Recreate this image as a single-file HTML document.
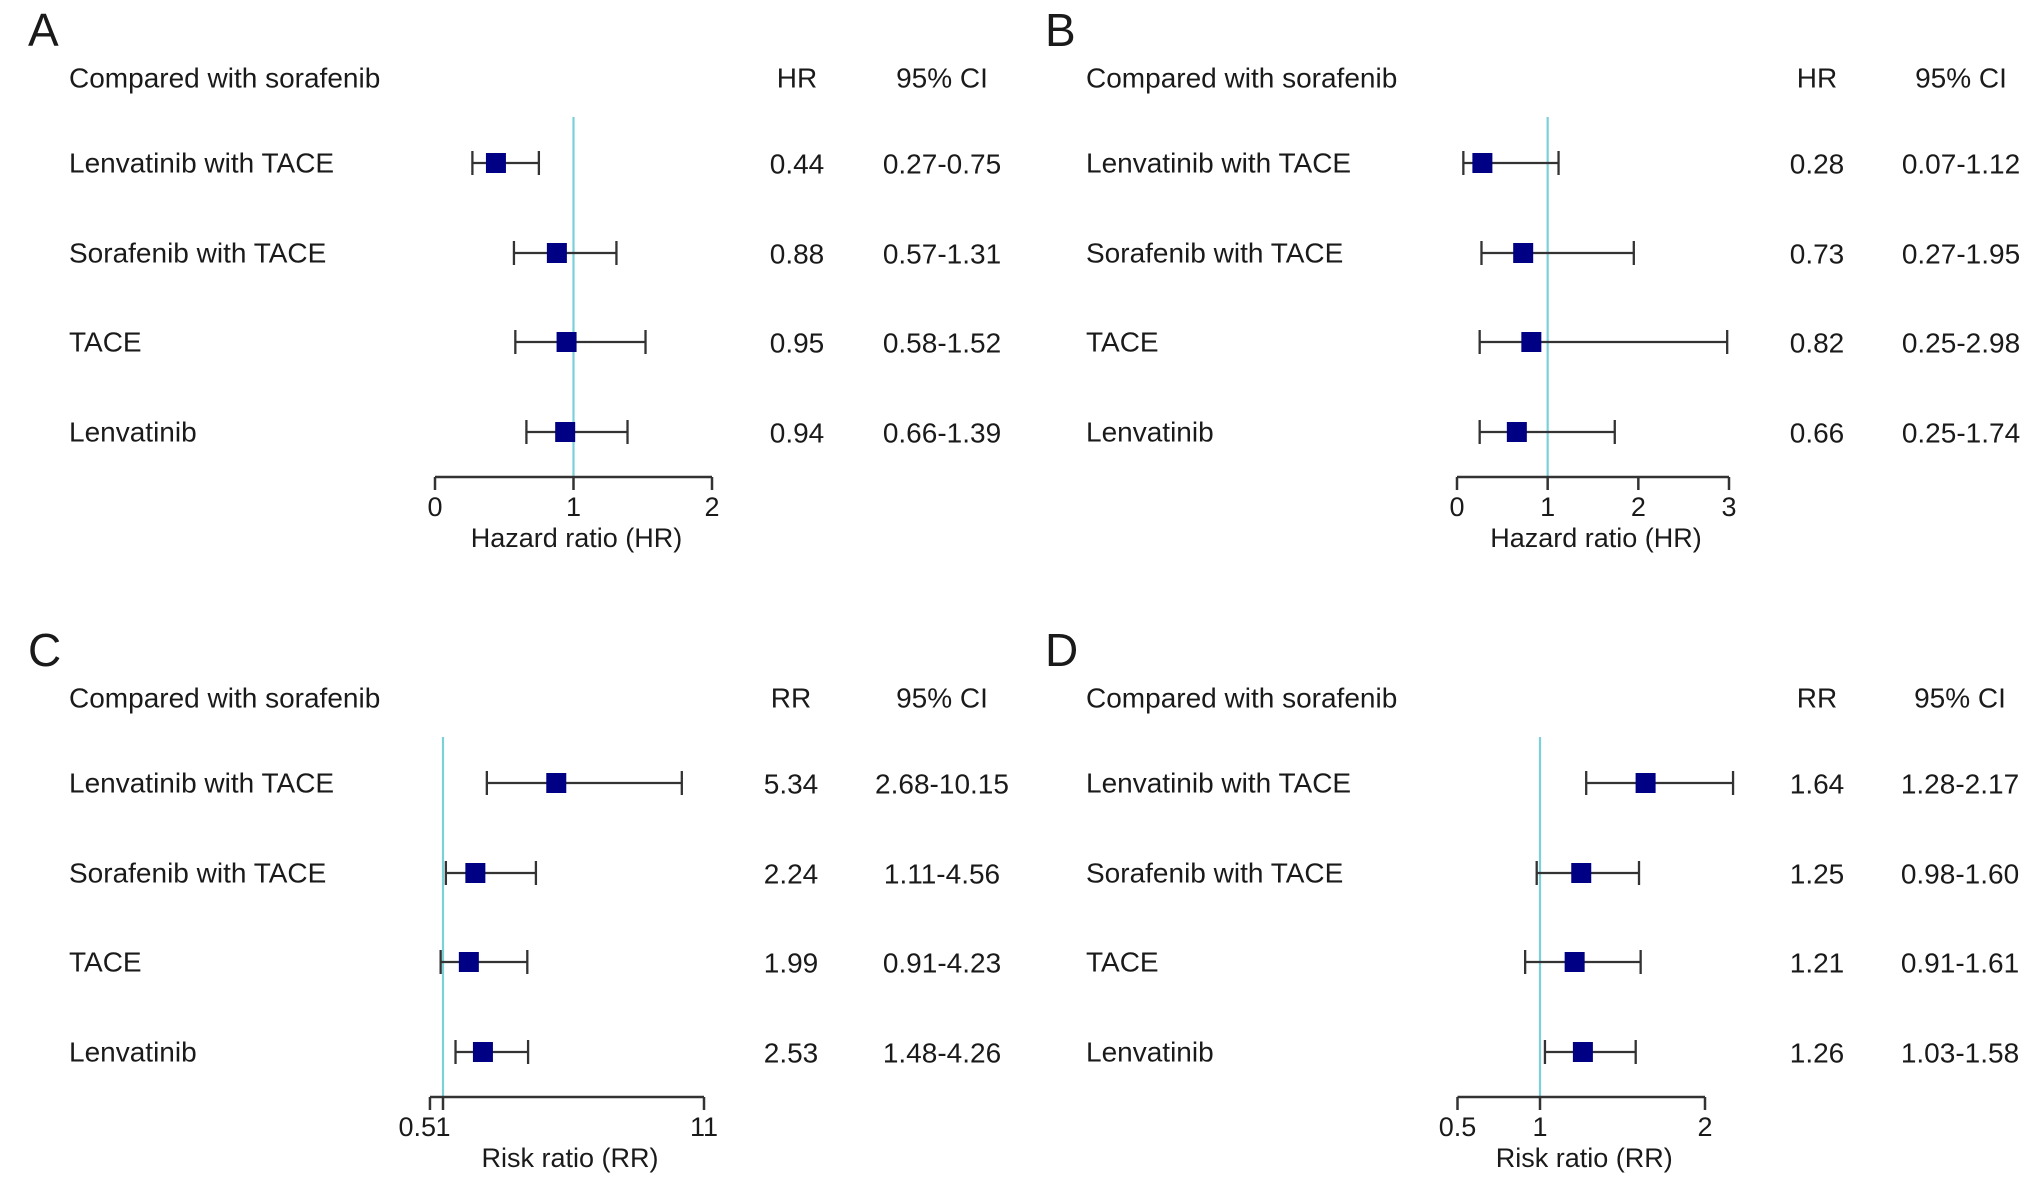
<!DOCTYPE html>
<html><head><meta charset="utf-8"><style>
html,body{margin:0;padding:0;background:#fff;}
svg{display:block;font-family:"Liberation Sans",Arial,sans-serif;}
</style></head><body>
<svg id="fig" width="2032" height="1187" viewBox="0 0 2032 1187" xmlns="http://www.w3.org/2000/svg"></svg>
<script>
const rowLabels = ["Lenvatinib with TACE","Sorafenib with TACE","TACE","Lenvatinib"];
const aEst = [0.44,0.88,0.95,0.94], aLo = [0.27,0.57,0.58,0.66], aHi = [0.75,1.31,1.52,1.39];
const bEst = [0.28,0.73,0.82,0.66], bLo = [0.07,0.27,0.25,0.25], bHi = [1.12,1.95,2.98,1.74];
const cEst = [5.34,2.24,1.99,2.53], cLo = [2.68,1.11,0.91,1.48], cHi = [10.15,4.56,4.23,4.26];
const dEst = [1.64,1.25,1.21,1.26], dLo = [1.28,0.98,0.91,1.03], dHi = [2.17,1.60,1.61,1.58];
const aTicks = [0,1,2], bTicks = [0,1,2,3], cTicks = [0.5,1,11], dTicks = [0.5,1,2];
const aTickLabels = ["0","1","2"], bTickLabels = ["0","1","2","3"], cTickLabels = ["0.5","1","11"], dTickLabels = ["0.5","1","2"];

const svg = document.getElementById('fig');
const NS = 'http://www.w3.org/2000/svg';
function mk(tag, attrs, parent){ const e=document.createElementNS(NS,tag); for(const k in attrs) e.setAttribute(k,attrs[k]); (parent||svg).appendChild(e); return e; }
function txt(s, x, y, size, anchor, parent){ const t=mk('text',{x:x,y:y,'font-size':size,'text-anchor':anchor||'start','dominant-baseline':'central',fill:'#1a1a1a'},parent); t.textContent=s; return t; }
function fmt(v){ return v.toFixed(2); }

const panels = [
  {id:'a', letter:'A', oy:0, stat:'HR', title:'Hazard ratio (HR)', est:aEst, lo:aLo, hi:aHi, dmin:0, dmax:2, px0:435, px1:712, ticks:aTicks, tl:aTickLabels, hrX:797, ciX:942, labX:69},
  {id:'b', letter:'B', oy:0, stat:'HR', title:'Hazard ratio (HR)', est:bEst, lo:bLo, hi:bHi, dmin:0, dmax:3, px0:1457, px1:1729, ticks:bTicks, tl:bTickLabels, hrX:1817, ciX:1961, labX:1086},
  {id:'c', letter:'C', oy:620, stat:'RR', title:'Risk ratio (RR)', est:cEst, lo:cLo, hi:cHi, dmin:1, dmax:11, px0:443, px1:704, ticks:cTicks, tl:cTickLabels, hrX:791, ciX:942, labX:69},
  {id:'d', letter:'D', oy:620, stat:'RR', title:'Risk ratio (RR)', est:dEst, lo:dLo, hi:dHi, dmin:1, dmax:2, px0:1540, px1:1705, ticks:dTicks, tl:dTickLabels, hrX:1817, ciX:1960, labX:1086}
];
const rowY = [163,253,342,432];

panels.forEach(p=>{
  const g = mk('g',{});
  
  
  const sx = v => p.px0 + (v - p.dmin) * (p.px1 - p.px0) / (p.dmax - p.dmin);
  const oy = p.oy;
  const L = txt(p.letter, p.labX - 41, 30 + oy, 46, 'start', g);
  
  
  const h1 = txt('Compared with sorafenib', p.labX, 78 + oy, 28, 'start', g);
  
  
  const h2 = txt(p.stat, p.hrX, 78 + oy, 28, 'middle', g);
  
  
  const h3 = txt('95% CI', p.ciX, 78 + oy, 28, 'middle', g);
  
  
  const axY = 477 + oy;
  const ref = mk('line',{x1:sx(1),x2:sx(1),y1:117+oy,y2:axY,stroke:'#7cd0da','stroke-width':2.2},g);
  
  
  const tmin = Math.min(...p.ticks), tmax = Math.max(...p.ticks);
  const ax = mk('line',{x1:sx(tmin),x2:sx(tmax),y1:axY,y2:axY,stroke:'#333','stroke-width':2.5},g);
  
  
  p.ticks.forEach((t,i)=>{
    const tk = mk('line',{x1:sx(t),x2:sx(t),y1:axY,y2:axY+13,stroke:'#333','stroke-width':2.5},g);
    
    
    let lx = sx(t), anc = 'middle';
    if (i < p.ticks.length-1 && sx(p.ticks[i+1]) - sx(t) < 40) { lx = sx(p.ticks[i+1]) - 7; anc = 'end'; }
    const tl = txt(p.tl[i], lx, axY+30, 27, anc, g);
    
    
  });
  const at = txt(p.title, (sx(tmin)+sx(tmax))/2 + 3, axY+61, 27, 'middle', g);
  
  
  rowLabels.forEach((lab,i)=>{
    const y = rowY[i] + oy;
    const rl = txt(lab, p.labX, y, 28, 'start', g);
    
    
    const ci = mk('g',{stroke:'#333','stroke-width':2.3},g);
    
    
    mk('line',{x1:sx(p.lo[i]),x2:sx(p.hi[i]),y1:y,y2:y},ci);
    mk('line',{x1:sx(p.lo[i]),x2:sx(p.lo[i]),y1:y-12,y2:y+12},ci);
    mk('line',{x1:sx(p.hi[i]),x2:sx(p.hi[i]),y1:y-12,y2:y+12},ci);
    const sq = mk('rect',{x:sx(p.est[i])-10,y:y-10,width:20,height:20,fill:'#000085'},g);
    
    
    const ev = txt(fmt(p.est[i]), p.hrX, y+1, 28, 'middle', g);
    
    
    const cv = txt(fmt(p.lo[i])+'-'+fmt(p.hi[i]), p.ciX, y+1, 28, 'middle', g);
    
    
  });
});
</script>
</body></html>
